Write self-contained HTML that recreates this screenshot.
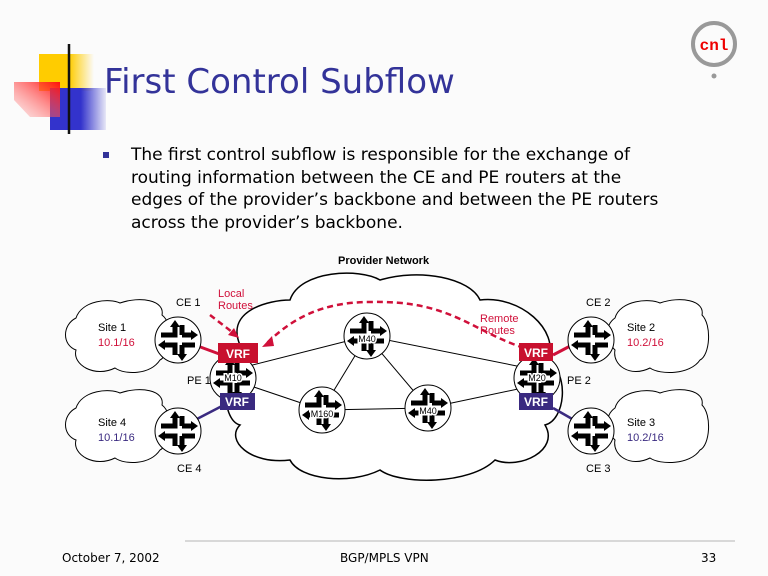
<!DOCTYPE html>
<html><head><meta charset="utf-8"><style>
body{margin:0;width:768px;height:576px;background:#fbfbfb;overflow:hidden;position:relative;font-family:"DejaVu Sans","Liberation Sans",sans-serif}
.t{position:absolute;white-space:nowrap}
</style></head><body>
<svg width="768" height="576" style="position:absolute;left:0;top:0">
<defs>
<linearGradient id="gy" x1="0" x2="1"><stop offset="0.55" stop-color="#ffcc00"/><stop offset="1" stop-color="#ffcc00" stop-opacity="0"/></linearGradient>
<linearGradient id="gb" x1="0" x2="1"><stop offset="0.55" stop-color="#3333cc"/><stop offset="1" stop-color="#3333cc" stop-opacity="0.1"/></linearGradient>
<linearGradient id="gr" x1="1" y1="0" x2="0" y2="1"><stop offset="0" stop-color="#ff1010"/><stop offset="1" stop-color="#ff9090" stop-opacity="0.2"/></linearGradient>
<linearGradient id="gl" x1="0" x2="1"><stop offset="0" stop-color="#222"/><stop offset="1" stop-color="#999"/></linearGradient>
<g id="rt">
<circle r="23" fill="#fff" stroke="#000" stroke-width="1"/>
<g stroke="#000" stroke-width="5" fill="none">
<path d="M-3,-15 V-5 H-17"/><path d="M4,-5 V-15"/><path d="M4,-5 H14"/>
<path d="M-3,15 V5 H-14"/><path d="M4,5 V16"/><path d="M4,5 H17"/>
</g>
<g fill="#000"><path d="M-3,-20 L-8,-13 L2,-13Z"/><path d="M20,-5 L13,-10 L13,0Z"/><path d="M-20,5 L-13,0 L-13,10Z"/><path d="M4,21 L-1,14 L9,14Z"/></g>
</g>
</defs>
<rect x="39" y="54" width="55" height="37" fill="url(#gy)"/>
<rect x="50" y="88" width="56" height="42" fill="url(#gb)"/>
<path d="M14,82 H60 V117 H30 L14,100Z" fill="url(#gr)"/>
<line x1="69" y1="44" x2="69" y2="134" stroke="#111" stroke-width="2.5"/>
<line x1="41" y1="112" x2="580" y2="112" stroke="url(#gl)" stroke-width="2.5"/>
<circle cx="714" cy="44" r="21" fill="none" stroke="#999" stroke-width="4"/>
<circle cx="714" cy="76" r="2.5" fill="#999"/>
<text x="714" y="50" font-size="16" font-weight="bold" fill="#e00" text-anchor="middle" font-family="Liberation Mono,monospace">cnl</text>
<rect x="103" y="152" width="6" height="6" fill="#333399"/>
<path d="M240,345 C225,310 270,300 290,300 C300,270 360,268 380,280 C420,268 470,278 480,300 C520,295 560,330 548,360 C570,375 565,420 545,425 C560,450 520,470 495,460 C470,485 400,485 380,470 C350,485 300,480 290,460 C250,465 225,440 240,425 C220,420 220,360 240,345Z" fill="#fff" stroke="#000" stroke-width="1.5"/>
<g fill="#fff" stroke="#000" stroke-width="1">
<path d="M76,318 C82,300 110,298 120,303 C140,296 165,300 162,315 C175,325 170,355 160,360 C150,375 125,375 115,368 C95,378 72,365 76,350 C62,345 62,325 76,318Z"/>
<path d="M76,408 C82,390 110,388 120,393 C140,386 165,390 162,405 C175,415 170,445 160,450 C150,465 125,465 115,458 C95,468 72,455 76,440 C62,435 62,415 76,408Z"/>
<path d="M615,318 C620,300 650,298 660,303 C680,296 705,300 702,315 C712,325 710,355 700,360 C690,375 660,375 650,368 C630,378 612,365 615,350 C605,340 605,325 615,318Z"/>
<path d="M615,408 C620,390 650,388 660,393 C680,386 705,390 702,405 C712,415 710,445 700,450 C690,465 660,465 650,458 C630,468 612,455 615,440 C605,430 605,415 615,408Z"/>
</g>
<g stroke="#000" stroke-width="1">
<line x1="233" y1="370" x2="367" y2="336"/><line x1="233" y1="380" x2="322" y2="410"/>
<line x1="367" y1="336" x2="322" y2="410"/><line x1="367" y1="336" x2="428" y2="408"/>
<line x1="322" y1="410" x2="428" y2="408"/><line x1="367" y1="336" x2="537" y2="370"/>
<line x1="428" y1="408" x2="537" y2="385"/>
</g>
<line x1="195" y1="345" x2="222" y2="355" stroke="#d0103a" stroke-width="3"/>
<line x1="195" y1="420" x2="222" y2="406" stroke="#3a2a80" stroke-width="2.5"/>
<line x1="553" y1="355" x2="574" y2="344" stroke="#d0103a" stroke-width="3"/>
<line x1="553" y1="408" x2="574" y2="420" stroke="#3a2a80" stroke-width="2.5"/>
<use href="#rt" x="178" y="340"/><use href="#rt" x="178" y="431"/>
<use href="#rt" x="233" y="378"/><use href="#rt" x="367" y="336"/>
<use href="#rt" x="322" y="410"/><use href="#rt" x="428" y="408"/>
<use href="#rt" x="537" y="378"/><use href="#rt" x="591" y="340"/><use href="#rt" x="591" y="431"/>
<path d="M524,348 C470,330 450,300 370,302 C320,302 290,320 265,345" fill="none" stroke="#d0103a" stroke-width="2.5" stroke-dasharray="6,4"/>
<path d="M262,347 L272,336 L274,346Z" fill="#d0103a"/>
<path d="M210,315 L236,335" stroke="#d0103a" stroke-width="2.5" stroke-dasharray="6,4"/>
<path d="M239,338 L228,335 L234,328Z" fill="#d0103a"/>
<rect x="218" y="343" width="40" height="20" fill="#c8102e"/>
<rect x="220" y="393" width="35" height="17" fill="#3a2a80"/>
<rect x="519" y="343" width="34" height="18" fill="#c8102e"/>
<rect x="519" y="393" width="34" height="17" fill="#3a2a80"/>
<g font-size="12" font-weight="bold" fill="#fff" text-anchor="middle" font-family="Liberation Sans,sans-serif">
<text x="238" y="358">VRF</text><text x="237" y="406">VRF</text><text x="536" y="357">VRF</text><text x="536" y="406">VRF</text></g>
<g font-size="9" fill="#000" text-anchor="middle" font-family="Liberation Sans,sans-serif" stroke="#fff" stroke-width="3" paint-order="stroke">
<text x="233" y="381">M10</text><text x="367" y="342">M40</text><text x="322" y="417">M160</text><text x="428" y="414">M40</text><text x="537" y="381">M20</text></g>
<g font-size="11" font-family="Liberation Sans,sans-serif">
<text x="338" y="264" font-weight="bold">Provider Network</text>
<text x="176" y="306">CE 1</text><text x="177" y="472">CE 4</text>
<text x="586" y="306">CE 2</text><text x="586" y="472">CE 3</text>
<text x="187" y="384">PE 1</text><text x="567" y="384">PE 2</text>
<text x="98" y="331">Site 1</text><text x="98" y="346" fill="#d0103a">10.1/16</text>
<text x="98" y="426">Site 4</text><text x="98" y="441" fill="#3a2a80">10.1/16</text>
<text x="627" y="331">Site 2</text><text x="627" y="346" fill="#d0103a">10.2/16</text>
<text x="627" y="426">Site 3</text><text x="627" y="441" fill="#3a2a80">10.2/16</text>
<g fill="#d0103a"><text x="218" y="297">Local</text><text x="218" y="309">Routes</text>
<text x="480" y="322">Remote</text><text x="480" y="334">Routes</text></g>
</g>
<line x1="185" y1="541" x2="735" y2="541" stroke="#ccc" stroke-width="1.5"/>
</svg>
<div class="t" style="left:104px;top:62px;font-size:34px;color:#333399">First Control Subflow</div>
<div class="t" style="left:131px;top:144px;font-size:17px;line-height:22.7px;color:#000">The first control subflow is responsible for the exchange of<br>routing information between the CE and PE routers at the<br>edges of the provider’s backbone and between the PE routers<br>across the provider’s backbone.</div>
<div class="t" style="left:62px;top:551px;font-size:12px">October 7, 2002</div>
<div class="t" style="left:340px;top:551px;font-size:12px">BGP/MPLS VPN</div>
<div class="t" style="left:701px;top:551px;font-size:12px">33</div>
</body></html>
